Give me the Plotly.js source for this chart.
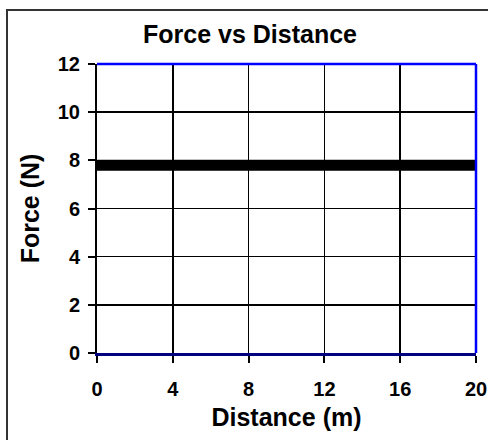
<!DOCTYPE html>
<html>
<head>
<meta charset="utf-8">
<script src="https://cdn.plot.ly/plotly-3.0.1.min.js"></script>
<style>
  html, body { margin: 0; padding: 0; background: #fff; }
  #chart { width: 488px; height: 440px; }
</style>
</head>
<body>
<div id="chart"></div>
<script>
// Data
const distance = [0, 4, 8, 12, 16, 20];
const force = [7.8, 7.8, 7.8, 7.8, 7.8, 7.8];
const xTicks = [0, 4, 8, 12, 16, 20];
const yTicks = [0, 2, 4, 6, 8, 10, 12];
const chartTitle = "Force vs Distance";
const xTitle = "Distance (m)";
const yTitle = "Force (N)";

const FONT = "Liberation Sans, Arial, Helvetica, sans-serif";

const trace = {
  x: distance,
  y: force,
  type: "scatter",
  mode: "lines",
  line: { color: "#000000", width: 11 },
  hoverinfo: "x+y",
  showlegend: false
};

const layout = {
  width: 488,
  height: 440,
  margin: { l: 97, r: 12, t: 64, b: 87, pad: 0 },
  paper_bgcolor: "#ffffff",
  plot_bgcolor: "#ffffff",
  font: { family: FONT, color: "#000000" },
  title: {
    text: chartTitle,
    font: { family: FONT, size: 25, weight: "bold", color: "#000000" },
    x: 250 / 488, xref: "container", xanchor: "center",
    y: 1 - 34 / 440, yref: "container", yanchor: "middle"
  },
  xaxis: {
    range: [0, 20],
    tickvals: xTicks,
    ticktext: xTicks.map(String),
    ticks: "outside",
    ticklen: 7,
    tickwidth: 2,
    tickcolor: "#000000",
    tickfont: { family: FONT, size: 20, weight: "bold", color: "#000000" },
    ticklabelstandoff: 9,
    showgrid: true,
    gridcolor: "#000000",
    gridwidth: 1.6,
    showline: true,
    linecolor: "#000080",
    linewidth: 3,
    zeroline: false,
    fixedrange: true,
    title: {
      text: xTitle,
      font: { family: FONT, size: 25, weight: "bold", color: "#000000" },
      standoff: 10
    }
  },
  yaxis: {
    range: [0, 12],
    tickvals: yTicks,
    ticktext: yTicks.map(String),
    ticks: "outside",
    ticklen: 7,
    tickwidth: 2,
    tickcolor: "#000000",
    tickfont: { family: FONT, size: 20, weight: "bold", color: "#000000" },
    ticklabelstandoff: 4,
    showgrid: true,
    gridcolor: "#000000",
    gridwidth: 1.6,
    showline: true,
    linecolor: "#000000",
    linewidth: 2,
    zeroline: false,
    fixedrange: true,
    title: {
      text: yTitle,
      font: { family: FONT, size: 25, weight: "bold", color: "#000000" },
      standoff: 11
    }
  },
  shapes: [
    // outer chart border (right/bottom edges fall outside the image)
    { type: "rect", xref: "paper", yref: "paper",
      x0: (7 - 97) / 379, x1: 1.2, y0: -0.6, y1: (353 - 10) / 289,
      line: { color: "#333333", width: 2 }, layer: "below" },
    // blue plot-area border on top and right
    { type: "line", xref: "paper", yref: "paper", x0: 0, x1: 1, y0: 1, y1: 1,
      line: { color: "#0000ff", width: 2.5 }, layer: "above" },
    { type: "line", xref: "paper", yref: "paper", x0: 1, x1: 1, y0: 0, y1: 1,
      line: { color: "#0000ff", width: 2.5 }, layer: "above" }
  ]
};

Plotly.newPlot("chart", [trace], layout, { displayModeBar: false, staticPlot: true });
</script>
</body>
</html>
